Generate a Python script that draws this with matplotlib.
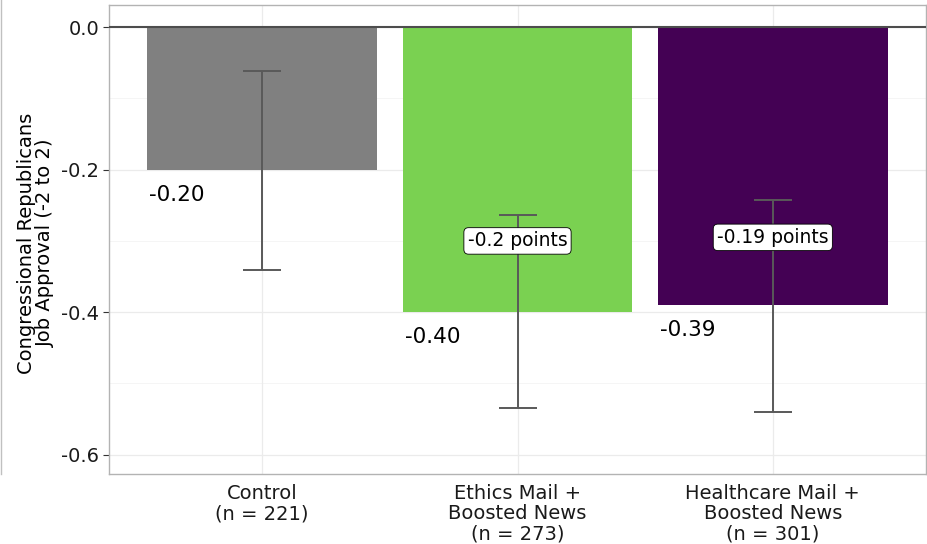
import matplotlib
matplotlib.use("Agg")
import matplotlib.pyplot as plt
from matplotlib.lines import Line2D
import numpy as np

# Group means, 95% interval bounds and sample sizes
groups = ["Control", "Ethics Mail +\nBoosted News", "Healthcare Mail +\nBoosted News"]
sizes = [221, 273, 301]
means = [-0.20, -0.40, -0.39]
ci_low = [-0.341, -0.535, -0.540]
ci_high = [-0.062, -0.264, -0.243]
effects = [None, -0.2, -0.19]
colors = ["#808080", "#7AD151", "#440154"]

plt.rcParams["font.family"] = "DejaVu Sans"

fig = plt.figure(figsize=(9.28, 5.44), dpi=100)
W, H = 928, 544
ax = fig.add_axes([109 / W, 1 - 474 / H, (926 - 109) / W, (474 - 5) / H])

x = np.arange(1, len(groups) + 1)

# background grid (major and minor)
for yv in [0.0, -0.2, -0.4, -0.6]:
    ax.axhline(yv, color="#ebebeb", lw=0.9, zorder=0)
for yv in [-0.1, -0.3, -0.5]:
    ax.axhline(yv, color="#f4f4f4", lw=0.6, zorder=0)
for xv in x:
    ax.axvline(xv, color="#ebebeb", lw=0.9, zorder=0)

ax.bar(x, means, width=0.9, color=colors, zorder=2)
ax.axhline(0, color="#4d4d4d", lw=1.5, zorder=3)

err_lo = np.array(means) - np.array(ci_low)
err_hi = np.array(ci_high) - np.array(means)
ax.errorbar(x, means, yerr=[err_lo, err_hi], fmt="none", ecolor="#595959",
            elinewidth=1.4, capsize=14, capthick=1.4, zorder=4)

# mean value labels under the bar ends
for xi, m in zip(x, means):
    ax.annotate(f"{m:.2f}", xy=(xi - 0.45, m), xytext=(2, -25),
                textcoords="offset pixels", ha="left", va="center",
                fontsize=15.5, color="black", zorder=5)

# treatment effect labels, halfway between control and treatment means
for xi, m, e in zip(x, means, effects):
    if e is None:
        continue
    ax.text(xi, (means[0] + m) / 2, f"{e:g} points", ha="center", va="center",
            fontsize=13.5, zorder=6,
            bbox=dict(boxstyle="round,pad=0.2,rounding_size=0.25", fc="white",
                      ec="black", lw=0.6))

ax.set_xlim(0.4, 3.6)
ax.set_ylim(-0.627, 0.031)
ax.set_xticks(x)
ax.set_xticklabels([f"{g}\n(n = {n})" for g, n in zip(groups, sizes)],
                   fontsize=14, linespacing=1.1)
ax.set_yticks([0.0, -0.2, -0.4, -0.6])
ax.set_yticklabels(["0.0", "-0.2", "-0.4", "-0.6"], fontsize=14)
ax.tick_params(axis="y", length=4, color="#333333", pad=3, labelcolor="#1a1a1a")
ax.tick_params(axis="x", length=0, pad=7, labelcolor="#1a1a1a")
for s in ax.spines.values():
    s.set_color("#b3b3b3")
    s.set_linewidth(1.0)

# axis title
fig.text(36 / W, 1 - 243 / H, "Congressional Republicans\nJob Approval (-2 to 2)",
         rotation=90, ha="center", va="center", fontsize=14,
         linespacing=0.95, multialignment="center")

fig.add_artist(Line2D([0.5 / W, 0.5 / W], [1, 1 - 474 / H], color="#c0c0c0", lw=1.0))

fig.savefig("out.png", dpi=100)
